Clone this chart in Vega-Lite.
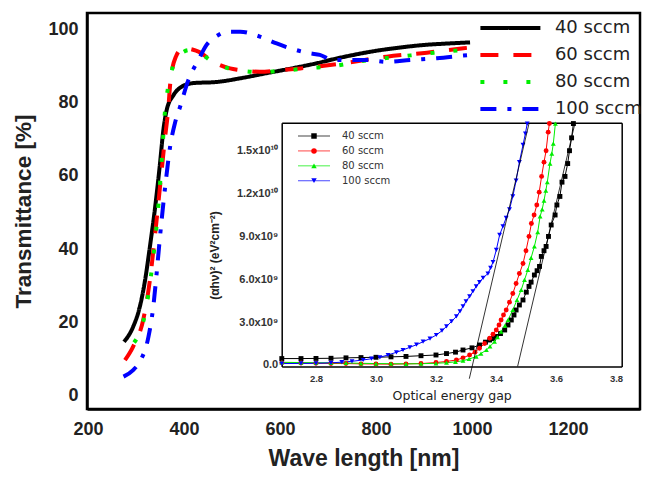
{
  "$schema": "https://vega.github.io/schema/vega-lite/v6.json",
  "width": 553,
  "height": 396,
  "autosize": "none",
  "padding": {"left": 87, "top": 13, "right": 7, "bottom": 74},
  "background": "white",
  "config": {"view": {"stroke": "#000", "strokeWidth": 2.5}, "font": "Liberation Sans"},
  "datasets": {
    "main": [
      {"series": "40 sccm", "wl": 275, "T": 14.7}, {"series": "40 sccm", "wl": 294, "T": 18.8}, {"series": "40 sccm", "wl": 308, "T": 24.3}, {"series": "40 sccm", "wl": 319, "T": 31.6}, {"series": "40 sccm", "wl": 329, "T": 40.7}, {"series": "40 sccm", "wl": 340, "T": 51.6}, {"series": "40 sccm", "wl": 350, "T": 63.4}, {"series": "40 sccm", "wl": 357, "T": 72.5}, {"series": "40 sccm", "wl": 364, "T": 78.0}, {"series": "40 sccm", "wl": 378, "T": 82.0}, {"series": "40 sccm", "wl": 395, "T": 84.3}, {"series": "40 sccm", "wl": 420, "T": 85.3}, {"series": "40 sccm", "wl": 468, "T": 85.6}, {"series": "40 sccm", "wl": 517, "T": 86.6}, {"series": "40 sccm", "wl": 572, "T": 88.0}, {"series": "40 sccm", "wl": 628, "T": 89.4}, {"series": "40 sccm", "wl": 676, "T": 90.7}, {"series": "40 sccm", "wl": 711, "T": 91.8}, {"series": "40 sccm", "wl": 750, "T": 92.9}, {"series": "40 sccm", "wl": 800, "T": 94.1}, {"series": "40 sccm", "wl": 850, "T": 95.0}, {"series": "40 sccm", "wl": 900, "T": 95.7}, {"series": "40 sccm", "wl": 950, "T": 96.1}, {"series": "40 sccm", "wl": 996, "T": 96.4},
      {"series": "60 sccm", "wl": 277, "T": 9.7}, {"series": "60 sccm", "wl": 294, "T": 13.4}, {"series": "60 sccm", "wl": 315, "T": 20.7}, {"series": "60 sccm", "wl": 329, "T": 31.6}, {"series": "60 sccm", "wl": 340, "T": 44.3}, {"series": "60 sccm", "wl": 350, "T": 57.0}, {"series": "60 sccm", "wl": 360, "T": 69.8}, {"series": "60 sccm", "wl": 367, "T": 78.0}, {"series": "60 sccm", "wl": 372, "T": 86.1}, {"series": "60 sccm", "wl": 383, "T": 92.5}, {"series": "60 sccm", "wl": 398, "T": 94.8}, {"series": "60 sccm", "wl": 419, "T": 94.4}, {"series": "60 sccm", "wl": 430, "T": 93.9}, {"series": "60 sccm", "wl": 461, "T": 91.1}, {"series": "60 sccm", "wl": 496, "T": 89.3}, {"series": "60 sccm", "wl": 513, "T": 88.9}, {"series": "60 sccm", "wl": 558, "T": 88.4}, {"series": "60 sccm", "wl": 607, "T": 88.9}, {"series": "60 sccm", "wl": 642, "T": 89.3}, {"series": "60 sccm", "wl": 732, "T": 90.7}, {"series": "60 sccm", "wl": 822, "T": 92.5}, {"series": "60 sccm", "wl": 906, "T": 93.6}, {"series": "60 sccm", "wl": 982, "T": 94.8}, {"series": "60 sccm", "wl": 996, "T": 95.0},
      {"series": "80 sccm", "wl": 296, "T": 14.5}, {"series": "80 sccm", "wl": 302, "T": 15.7}, {"series": "80 sccm", "wl": 319, "T": 22.5}, {"series": "80 sccm", "wl": 326, "T": 27.9}, {"series": "80 sccm", "wl": 336, "T": 37.9}, {"series": "80 sccm", "wl": 347, "T": 52.5}, {"series": "80 sccm", "wl": 354, "T": 65.2}, {"series": "80 sccm", "wl": 360, "T": 77.0}, {"series": "80 sccm", "wl": 367, "T": 84.3}, {"series": "80 sccm", "wl": 378, "T": 90.2}, {"series": "80 sccm", "wl": 395, "T": 93.5}, {"series": "80 sccm", "wl": 412, "T": 94.3}, {"series": "80 sccm", "wl": 430, "T": 93.7}, {"series": "80 sccm", "wl": 461, "T": 91.0}, {"series": "80 sccm", "wl": 496, "T": 89.2}, {"series": "80 sccm", "wl": 513, "T": 88.8}, {"series": "80 sccm", "wl": 558, "T": 88.3}, {"series": "80 sccm", "wl": 607, "T": 88.7}, {"series": "80 sccm", "wl": 663, "T": 89.4}, {"series": "80 sccm", "wl": 704, "T": 89.8}, {"series": "80 sccm", "wl": 780, "T": 91.5}, {"series": "80 sccm", "wl": 850, "T": 92.5}, {"series": "80 sccm", "wl": 900, "T": 93.3}, {"series": "80 sccm", "wl": 947, "T": 93.9}, {"series": "80 sccm", "wl": 992, "T": 94.5},
      {"series": "100 sccm", "wl": 274, "T": 5.2}, {"series": "100 sccm", "wl": 294, "T": 7.0}, {"series": "100 sccm", "wl": 308, "T": 9.3}, {"series": "100 sccm", "wl": 326, "T": 16.1}, {"series": "100 sccm", "wl": 336, "T": 24.3}, {"series": "100 sccm", "wl": 343, "T": 33.4}, {"series": "100 sccm", "wl": 350, "T": 43.4}, {"series": "100 sccm", "wl": 357, "T": 52.5}, {"series": "100 sccm", "wl": 364, "T": 60.7}, {"series": "100 sccm", "wl": 371, "T": 67.9}, {"series": "100 sccm", "wl": 381, "T": 74.3}, {"series": "100 sccm", "wl": 392, "T": 78.9}, {"series": "100 sccm", "wl": 409, "T": 86.1}, {"series": "100 sccm", "wl": 430, "T": 91.6}, {"series": "100 sccm", "wl": 447, "T": 95.7}, {"series": "100 sccm", "wl": 470, "T": 98.3}, {"series": "100 sccm", "wl": 489, "T": 99.3}, {"series": "100 sccm", "wl": 517, "T": 99.3}, {"series": "100 sccm", "wl": 558, "T": 98.0}, {"series": "100 sccm", "wl": 593, "T": 96.1}, {"series": "100 sccm", "wl": 621, "T": 94.8}, {"series": "100 sccm", "wl": 663, "T": 93.4}, {"series": "100 sccm", "wl": 683, "T": 93.0}, {"series": "100 sccm", "wl": 710, "T": 91.6}, {"series": "100 sccm", "wl": 781, "T": 91.6}, {"series": "100 sccm", "wl": 822, "T": 91.1}, {"series": "100 sccm", "wl": 871, "T": 91.6}, {"series": "100 sccm", "wl": 927, "T": 92.1}, {"series": "100 sccm", "wl": 982, "T": 92.8}, {"series": "100 sccm", "wl": 999, "T": 93.0}
    ],
    "inset": [
      {"series": "40 sccm", "E": 2.686, "V": 0.45e9}, {"series": "40 sccm", "E": 2.75, "V": 0.45e9}, {"series": "40 sccm", "E": 2.8, "V": 0.46e9}, {"series": "40 sccm", "E": 2.85, "V": 0.47e9}, {"series": "40 sccm", "E": 2.9, "V": 0.5e9}, {"series": "40 sccm", "E": 2.95, "V": 0.52e9}, {"series": "40 sccm", "E": 3.0, "V": 0.54e9}, {"series": "40 sccm", "E": 3.05, "V": 0.57e9}, {"series": "40 sccm", "E": 3.1, "V": 0.6e9}, {"series": "40 sccm", "E": 3.15, "V": 0.65e9}, {"series": "40 sccm", "E": 3.2, "V": 0.7e9}, {"series": "40 sccm", "E": 3.235, "V": 0.8e9}, {"series": "40 sccm", "E": 3.265, "V": 0.9e9}, {"series": "40 sccm", "E": 3.29, "V": 1.05e9}, {"series": "40 sccm", "E": 3.32, "V": 1.2e9}, {"series": "40 sccm", "E": 3.345, "V": 1.4e9}, {"series": "40 sccm", "E": 3.365, "V": 1.6e9}, {"series": "40 sccm", "E": 3.379, "V": 1.75e9}, {"series": "40 sccm", "E": 3.39, "V": 1.85e9}, {"series": "40 sccm", "E": 3.401, "V": 2.0e9}, {"series": "40 sccm", "E": 3.415, "V": 2.2e9}, {"series": "40 sccm", "E": 3.429, "V": 2.45e9}, {"series": "40 sccm", "E": 3.44, "V": 2.8e9}, {"series": "40 sccm", "E": 3.451, "V": 3.15e9}, {"series": "40 sccm", "E": 3.46, "V": 3.5e9}, {"series": "40 sccm", "E": 3.467, "V": 3.85e9}, {"series": "40 sccm", "E": 3.478, "V": 4.2e9}, {"series": "40 sccm", "E": 3.49, "V": 4.55e9}, {"series": "40 sccm", "E": 3.501, "V": 5.1e9}, {"series": "40 sccm", "E": 3.51, "V": 5.5e9}, {"series": "40 sccm", "E": 3.517, "V": 5.8e9}, {"series": "40 sccm", "E": 3.528, "V": 6.3e9}, {"series": "40 sccm", "E": 3.537, "V": 6.6e9}, {"series": "40 sccm", "E": 3.545, "V": 6.9e9}, {"series": "40 sccm", "E": 3.551, "V": 7.6e9}, {"series": "40 sccm", "E": 3.56, "V": 8.0e9}, {"series": "40 sccm", "E": 3.567, "V": 8.3e9}, {"series": "40 sccm", "E": 3.575, "V": 9.0e9}, {"series": "40 sccm", "E": 3.584, "V": 9.8e9}, {"series": "40 sccm", "E": 3.597, "V": 10.5e9}, {"series": "40 sccm", "E": 3.603, "V": 11.2e9}, {"series": "40 sccm", "E": 3.613, "V": 11.8e9}, {"series": "40 sccm", "E": 3.62, "V": 12.8e9}, {"series": "40 sccm", "E": 3.63, "V": 13.2e9}, {"series": "40 sccm", "E": 3.639, "V": 14.1e9}, {"series": "40 sccm", "E": 3.645, "V": 15.0e9}, {"series": "40 sccm", "E": 3.652, "V": 15.9e9}, {"series": "40 sccm", "E": 3.658, "V": 16.9e9},
      {"series": "60 sccm", "E": 2.686, "V": 0.15e9}, {"series": "60 sccm", "E": 2.75, "V": 0.14e9}, {"series": "60 sccm", "E": 2.8, "V": 0.12e9}, {"series": "60 sccm", "E": 2.85, "V": 0.11e9}, {"series": "60 sccm", "E": 2.9, "V": 0.1e9}, {"series": "60 sccm", "E": 2.95, "V": 0.08e9}, {"series": "60 sccm", "E": 3.0, "V": 0.07e9}, {"series": "60 sccm", "E": 3.05, "V": 0.06e9}, {"series": "60 sccm", "E": 3.1, "V": 0.08e9}, {"series": "60 sccm", "E": 3.15, "V": 0.1e9}, {"series": "60 sccm", "E": 3.2, "V": 0.17e9}, {"series": "60 sccm", "E": 3.235, "V": 0.25e9}, {"series": "60 sccm", "E": 3.268, "V": 0.35e9}, {"series": "60 sccm", "E": 3.29, "V": 0.5e9}, {"series": "60 sccm", "E": 3.312, "V": 0.7e9}, {"series": "60 sccm", "E": 3.33, "V": 0.9e9}, {"series": "60 sccm", "E": 3.345, "V": 1.17e9}, {"series": "60 sccm", "E": 3.362, "V": 1.5e9}, {"series": "60 sccm", "E": 3.379, "V": 1.87e9}, {"series": "60 sccm", "E": 3.39, "V": 2.15e9}, {"series": "60 sccm", "E": 3.401, "V": 2.45e9}, {"series": "60 sccm", "E": 3.41, "V": 2.8e9}, {"series": "60 sccm", "E": 3.417, "V": 3.15e9}, {"series": "60 sccm", "E": 3.425, "V": 3.5e9}, {"series": "60 sccm", "E": 3.434, "V": 3.85e9}, {"series": "60 sccm", "E": 3.445, "V": 4.4e9}, {"series": "60 sccm", "E": 3.456, "V": 5.0e9}, {"series": "60 sccm", "E": 3.467, "V": 5.7e9}, {"series": "60 sccm", "E": 3.478, "V": 6.4e9}, {"series": "60 sccm", "E": 3.49, "V": 7.1e9}, {"series": "60 sccm", "E": 3.5, "V": 8.0e9}, {"series": "60 sccm", "E": 3.51, "V": 9.0e9}, {"series": "60 sccm", "E": 3.518, "V": 9.9e9}, {"series": "60 sccm", "E": 3.527, "V": 10.5e9}, {"series": "60 sccm", "E": 3.536, "V": 11.2e9}, {"series": "60 sccm", "E": 3.544, "V": 12.1e9}, {"series": "60 sccm", "E": 3.552, "V": 13.2e9}, {"series": "60 sccm", "E": 3.56, "V": 14.2e9}, {"series": "60 sccm", "E": 3.567, "V": 15.0e9}, {"series": "60 sccm", "E": 3.574, "V": 16.3e9}, {"series": "60 sccm", "E": 3.578, "V": 16.9e9},
      {"series": "80 sccm", "E": 2.686, "V": 0.19e9}, {"series": "80 sccm", "E": 2.75, "V": 0.17e9}, {"series": "80 sccm", "E": 2.8, "V": 0.16e9}, {"series": "80 sccm", "E": 2.85, "V": 0.15e9}, {"series": "80 sccm", "E": 2.9, "V": 0.14e9}, {"series": "80 sccm", "E": 2.95, "V": 0.12e9}, {"series": "80 sccm", "E": 3.0, "V": 0.1e9}, {"series": "80 sccm", "E": 3.05, "V": 0.09e9}, {"series": "80 sccm", "E": 3.1, "V": 0.08e9}, {"series": "80 sccm", "E": 3.15, "V": 0.09e9}, {"series": "80 sccm", "E": 3.2, "V": 0.12e9}, {"series": "80 sccm", "E": 3.235, "V": 0.16e9}, {"series": "80 sccm", "E": 3.265, "V": 0.22e9}, {"series": "80 sccm", "E": 3.29, "V": 0.3e9}, {"series": "80 sccm", "E": 3.31, "V": 0.42e9}, {"series": "80 sccm", "E": 3.334, "V": 0.58e9}, {"series": "80 sccm", "E": 3.35, "V": 0.8e9}, {"series": "80 sccm", "E": 3.368, "V": 1.05e9}, {"series": "80 sccm", "E": 3.38, "V": 1.3e9}, {"series": "80 sccm", "E": 3.395, "V": 1.63e9}, {"series": "80 sccm", "E": 3.405, "V": 1.95e9}, {"series": "80 sccm", "E": 3.417, "V": 2.33e9}, {"series": "80 sccm", "E": 3.43, "V": 2.75e9}, {"series": "80 sccm", "E": 3.44, "V": 3.15e9}, {"series": "80 sccm", "E": 3.456, "V": 3.85e9}, {"series": "80 sccm", "E": 3.47, "V": 4.55e9}, {"series": "80 sccm", "E": 3.484, "V": 5.25e9}, {"series": "80 sccm", "E": 3.495, "V": 5.95e9}, {"series": "80 sccm", "E": 3.506, "V": 6.65e9}, {"series": "80 sccm", "E": 3.517, "V": 7.5e9}, {"series": "80 sccm", "E": 3.528, "V": 8.3e9}, {"series": "80 sccm", "E": 3.539, "V": 9.3e9}, {"series": "80 sccm", "E": 3.547, "V": 10.4e9}, {"series": "80 sccm", "E": 3.554, "V": 10.9e9}, {"series": "80 sccm", "E": 3.56, "V": 11.5e9}, {"series": "80 sccm", "E": 3.566, "V": 12.2e9}, {"series": "80 sccm", "E": 3.571, "V": 12.8e9}, {"series": "80 sccm", "E": 3.58, "V": 14.1e9}, {"series": "80 sccm", "E": 3.586, "V": 14.8e9}, {"series": "80 sccm", "E": 3.591, "V": 15.5e9}, {"series": "80 sccm", "E": 3.598, "V": 16.9e9},
      {"series": "100 sccm", "E": 2.686, "V": 0.1e9}, {"series": "100 sccm", "E": 2.75, "V": 0.11e9}, {"series": "100 sccm", "E": 2.8, "V": 0.12e9}, {"series": "100 sccm", "E": 2.85, "V": 0.15e9}, {"series": "100 sccm", "E": 2.886, "V": 0.2e9}, {"series": "100 sccm", "E": 2.92, "V": 0.26e9}, {"series": "100 sccm", "E": 2.957, "V": 0.35e9}, {"series": "100 sccm", "E": 2.985, "V": 0.44e9}, {"series": "100 sccm", "E": 3.013, "V": 0.54e9}, {"series": "100 sccm", "E": 3.04, "V": 0.7e9}, {"series": "100 sccm", "E": 3.068, "V": 0.89e9}, {"series": "100 sccm", "E": 3.09, "V": 1.05e9}, {"series": "100 sccm", "E": 3.113, "V": 1.24e9}, {"series": "100 sccm", "E": 3.135, "V": 1.42e9}, {"series": "100 sccm", "E": 3.157, "V": 1.63e9}, {"series": "100 sccm", "E": 3.18, "V": 1.85e9}, {"series": "100 sccm", "E": 3.201, "V": 2.1e9}, {"series": "100 sccm", "E": 3.22, "V": 2.4e9}, {"series": "100 sccm", "E": 3.235, "V": 2.7e9}, {"series": "100 sccm", "E": 3.252, "V": 3.05e9}, {"series": "100 sccm", "E": 3.268, "V": 3.4e9}, {"series": "100 sccm", "E": 3.28, "V": 3.75e9}, {"series": "100 sccm", "E": 3.29, "V": 4.1e9}, {"series": "100 sccm", "E": 3.3, "V": 4.45e9}, {"series": "100 sccm", "E": 3.312, "V": 4.8e9}, {"series": "100 sccm", "E": 3.323, "V": 5.15e9}, {"series": "100 sccm", "E": 3.334, "V": 5.5e9}, {"series": "100 sccm", "E": 3.345, "V": 5.8e9}, {"series": "100 sccm", "E": 3.357, "V": 6.1e9}, {"series": "100 sccm", "E": 3.373, "V": 6.4e9}, {"series": "100 sccm", "E": 3.382, "V": 6.8e9}, {"series": "100 sccm", "E": 3.39, "V": 7.2e9}, {"series": "100 sccm", "E": 3.401, "V": 8.05e9}, {"series": "100 sccm", "E": 3.412, "V": 9.1e9}, {"series": "100 sccm", "E": 3.423, "V": 9.7e9}, {"series": "100 sccm", "E": 3.434, "V": 10.3e9}, {"series": "100 sccm", "E": 3.445, "V": 10.9e9}, {"series": "100 sccm", "E": 3.456, "V": 11.8e9}, {"series": "100 sccm", "E": 3.467, "V": 12.9e9}, {"series": "100 sccm", "E": 3.478, "V": 14.2e9}, {"series": "100 sccm", "E": 3.49, "V": 15.4e9}, {"series": "100 sccm", "E": 3.498, "V": 16.2e9}, {"series": "100 sccm", "E": 3.504, "V": 16.9e9}
    ],
    "tangent": [
      {"id": "a", "E": 3.311, "V": -0.96e9}, {"id": "a", "E": 3.51, "V": 16.9e9},
      {"id": "b", "E": 3.472, "V": -0.1e9}, {"id": "b", "E": 3.663, "V": 16.9e9}
    ]
  },
  "layer": [
    {
      "data": {"name": "main"},
      "mark": {"type": "line", "strokeWidth": 4, "interpolate": "monotone"},
      "encoding": {
        "x": {
          "field": "wl", "type": "quantitative",
          "scale": {"domain": [197.9, 1350], "nice": false, "zero": false},
          "axis": {
            "orient": "bottom",
            "values": [200, 300, 400, 500, 600, 700, 800, 900, 1000, 1100, 1200, 1300],
            "format": "d",
            "labelExpr": "datum.value % 200 === 0 ? datum.label : ''",
            "labelOverlap": false, "labelFlush": false,
            "title": "Wave length [nm]",
            "titleFont": "Liberation Sans", "titleFontSize": 23, "titleFontWeight": "bold", "titleColor": "#222",
            "titlePadding": 9,
            "labelFont": "Liberation Sans", "labelFontSize": 18, "labelFontWeight": "bold", "labelColor": "#222",
            "labelPadding": 11,
            "domainColor": "#000", "domainWidth": 2.5,
            "tickColor": "#000", "tickWidth": 2, "tickSize": 0,
            "grid": false,
            "encode": {"ticks": {"y2": {"condition": {"test": "datum.value % 200 === 0", "value": -9}, "value": -5}}}
          }
        },
        "y": {
          "field": "T", "type": "quantitative",
          "scale": {"domain": [-3.63, 104.42], "nice": false, "zero": false},
          "axis": {
            "orient": "left",
            "values": [0, 10, 20, 30, 40, 50, 60, 70, 80, 90, 100],
            "format": "d",
            "labelExpr": "datum.value % 20 === 0 ? datum.label : ''",
            "labelOverlap": false, "labelFlush": false,
            "title": "Transmittance [%]",
            "titleFont": "Liberation Sans", "titleFontSize": 22.5, "titleFontWeight": "bold", "titleColor": "#222",
            "titlePadding": 12,
            "labelFont": "Liberation Sans", "labelFontSize": 18, "labelFontWeight": "bold", "labelColor": "#222",
            "labelPadding": 9,
            "domainColor": "#000", "domainWidth": 2.5,
            "tickColor": "#000", "tickWidth": 2, "tickSize": 0,
            "grid": false,
            "encode": {"ticks": {"x2": {"condition": {"test": "datum.value % 20 === 0", "value": 9}, "value": 5}}}
          }
        },
        "color": {
          "field": "series", "type": "nominal",
          "scale": {"domain": ["40 sccm", "60 sccm", "80 sccm", "100 sccm"], "range": ["#000000", "#ff0000", "#00ee00", "#0000ff"]},
          "legend": {
            "orient": "none", "legendX": 413.9, "legendY": 5.5, "title": null, "padding": 0,
            "symbolType": "M-4,0H4", "symbolSize": 225, "symbolStrokeWidth": 4, "symbolFillColor": "transparent",
            "labelFont": "DejaVu Sans", "labelFontSize": 18, "labelColor": "#222", "labelOffset": 35,
            "rowPadding": 8
          }
        },
        "strokeDash": {
          "field": "series", "type": "nominal",
          "scale": {"domain": ["40 sccm", "60 sccm", "80 sccm", "100 sccm"], "range": [[1, 0], [18, 15], [4, 19], [16, 11, 4, 11]]},
          "legend": {
            "orient": "none", "legendX": 413.9, "legendY": 5.5, "title": null, "padding": 0,
            "symbolType": "M-4,0H4", "symbolSize": 225, "symbolStrokeWidth": 4, "symbolFillColor": "transparent",
            "labelFont": "DejaVu Sans", "labelFontSize": 18, "labelColor": "#222", "labelOffset": 35,
            "rowPadding": 8
          }
        }
      }
    },
    {
      "layer": [
        {
          "data": {"name": "inset"},
          "mark": {"type": "line", "strokeWidth": 1},
          "encoding": {
            "x": {
              "field": "E", "type": "quantitative",
              "scale": {"domain": [2.6857, 3.819], "range": [194.7, 534.7], "nice": false, "zero": false},
              "axis": {
                "orient": "bottom", "offset": -42.5,
                "values": [2.7, 2.8, 2.9, 3.0, 3.1, 3.2, 3.3, 3.4, 3.5, 3.6, 3.7, 3.8],
                "format": ".1f",
                "labelExpr": "round(datum.value * 10) % 2 === 0 ? datum.label : ''",
                "labelOverlap": false, "labelFlush": false,
                "title": "Optical energy gap",
                "titleFont": "DejaVu Sans", "titleFontSize": 12.5, "titleFontWeight": "normal", "titleColor": "#222",
                "titlePadding": 6,
                "labelFont": "Liberation Sans", "labelFontSize": 9.5, "labelFontWeight": "bold", "labelColor": "#333",
                "labelPadding": 7,
                "domainColor": "#000", "domainWidth": 1.5,
                "tickColor": "#000", "tickWidth": 1.2, "tickSize": 0,
                "grid": false,
                "encode": {"ticks": {"y2": {"condition": {"test": "round(datum.value * 10) % 2 === 0", "value": -4}, "value": -2}}}
              }
            },
            "y": {
              "field": "V", "type": "quantitative",
              "scale": {"domain": [-1.05e8, 1.696e10], "range": [353.5, 109.7], "nice": false, "zero": false},
              "axis": {
                "orient": "left", "offset": -194.7,
                "values": [0, 1.5e9, 3e9, 4.5e9, 6e9, 7.5e9, 9e9, 1.05e10, 1.2e10, 1.35e10, 1.5e10, 1.65e10],
                "labelExpr": "datum.value === 0 ? '0.0' : (round(datum.value / 1e9) % 3 === 0 ? (datum.value >= 1e10 ? format(datum.value / 1e10, '.1f') + 'x10¹⁰' : format(datum.value / 1e9, '.1f') + 'x10⁹') : '')",
                "labelOverlap": false, "labelFlush": false,
                "title": "(αhν)² (eV²cm⁻²)",
                "titleFont": "Liberation Sans", "titleFontSize": 12, "titleFontWeight": "bold", "titleColor": "#222",
                "titlePadding": 15, "titleY": 242,
                "labelFont": "Liberation Sans", "labelFontSize": 11, "labelFontWeight": "bold", "labelColor": "#333",
                "labelPadding": 4,
                "domainColor": "#000", "domainWidth": 1.5,
                "tickColor": "#000", "tickWidth": 1.2, "tickSize": 0,
                "grid": false,
                "encode": {"ticks": {"x2": {"condition": {"test": "round(datum.value / 1e9) % 3 === 0", "value": 3.5}, "value": 2}}}
              }
            },
            "stroke": {
              "field": "series", "type": "nominal",
              "scale": {"domain": ["100 sccm", "40 sccm", "60 sccm", "80 sccm"], "range": ["#0000ff", "#000000", "#ff0000", "#00ee00"]},
              "legend": {
                "orient": "none", "legendX": 222, "legendY": 118, "title": null, "padding": 0,
                "values": ["40 sccm", "60 sccm", "80 sccm", "100 sccm"],
                "symbolType": "M-4,0H4", "symbolSize": 64, "symbolStrokeWidth": 1.2, "symbolOpacity": 0.6, "symbolFillColor": "transparent",
                "labelFont": "DejaVu Sans", "labelFontSize": 10, "labelColor": "#333", "labelOffset": 23, "labelOpacity": 0,
                "rowPadding": 4.9
              }
            }
          }
        },
        {
          "data": {"name": "inset"},
          "mark": {"type": "point", "filled": true, "size": 24, "opacity": 1},
          "encoding": {
            "x": {
              "field": "E", "type": "quantitative",
              "scale": {"domain": [2.6857, 3.819], "range": [194.7, 534.7], "nice": false, "zero": false},
              "axis": {"orient": "top", "offset": -109.7, "labels": false, "ticks": false, "title": null, "grid": false, "domainColor": "#000", "domainWidth": 1.5}
            },
            "y": {
              "field": "V", "type": "quantitative",
              "scale": {"domain": [-1.05e8, 1.696e10], "range": [353.5, 109.7], "nice": false, "zero": false},
              "axis": {"orient": "right", "offset": -18.3, "labels": false, "ticks": false, "title": null, "grid": false, "domainColor": "#000", "domainWidth": 1.5}
            },
            "color": {
              "field": "series", "type": "nominal",
              "scale": {"domain": ["40 sccm", "60 sccm", "80 sccm", "100 sccm"], "range": ["#000000", "#ff0000", "#00ee00", "#0000ff"]},
              "legend": {
                "orient": "none", "legendX": 222, "legendY": 118, "title": null, "padding": 0,
                "symbolSize": 30, "symbolStrokeWidth": 0, "symbolOpacity": 1,
                "labelFont": "DejaVu Sans", "labelFontSize": 10, "labelColor": "#333", "labelOffset": 23,
                "rowPadding": 4.9
              }
            },
            "shape": {
              "field": "series", "type": "nominal",
              "scale": {"domain": ["40 sccm", "60 sccm", "80 sccm", "100 sccm"], "range": ["square", "circle", "triangle-up", "triangle-down"]},
              "legend": {
                "orient": "none", "legendX": 222, "legendY": 118, "title": null, "padding": 0,
                "symbolSize": 30, "symbolStrokeWidth": 0, "symbolOpacity": 1,
                "labelFont": "DejaVu Sans", "labelFontSize": 10, "labelColor": "#333", "labelOffset": 23,
                "rowPadding": 4.9
              }
            }
          }
        },
        {
          "data": {"name": "tangent"},
          "mark": {"type": "line", "color": "#000", "strokeWidth": 0.8},
          "encoding": {
            "x": {"field": "E", "type": "quantitative", "scale": {"domain": [2.6857, 3.819], "range": [194.7, 534.7], "nice": false, "zero": false}, "axis": null},
            "y": {"field": "V", "type": "quantitative", "scale": {"domain": [-1.05e8, 1.696e10], "range": [353.5, 109.7], "nice": false, "zero": false}, "axis": null},
            "detail": {"field": "id", "type": "nominal"}
          }
        }
      ],
      "resolve": {"axis": {"x": "independent", "y": "independent"}}
    }
  ],
  "resolve": {
    "scale": {"x": "independent", "y": "independent", "color": "independent", "strokeDash": "independent", "shape": "independent", "stroke": "independent"},
    "legend": {"color": "independent", "strokeDash": "independent", "shape": "independent", "stroke": "independent"}
  }
}
